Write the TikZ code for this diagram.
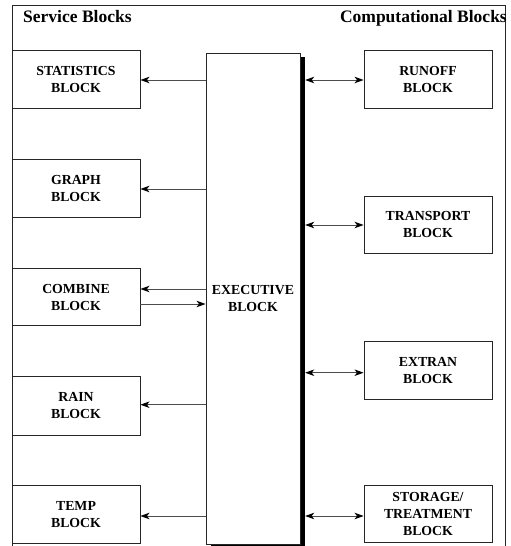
\documentclass[tikz,border=0pt]{standalone}
\usepackage{fontspec}
\setmainfont{Liberation Serif}
\usetikzlibrary{arrows.meta}
\begin{document}
\begin{tikzpicture}[x=1pt,y=-1pt,
  blk/.style={draw=black!85,line width=0.9pt,fill=white,rectangle,inner sep=0pt,
    minimum width=128pt,align=center,font=\bfseries\fontsize{13.8}{17}\selectfont},
  tip/.tip={Stealth[length=9pt,width=6.5pt,inset=2.5pt,color=black]},
  arr/.style={draw=black!70,line width=0.8pt,-tip},
  darr/.style={draw=black!70,line width=0.8pt,tip-tip},
  hdr/.style={inner sep=0pt,font=\bfseries\fontsize{17.5}{20}\selectfont}]
\useasboundingbox (0,0) rectangle (511,546);
% frame
\draw[black!85,line width=0.9pt] (12,546) -- (12,5) -- (505,5) -- (505,546);
\node[hdr,anchor=base west] (h1) at (23,22) {Service Blocks};
\node[hdr,anchor=base east] (h2) at (507,22) {Computational Blocks};
% executive with shadow
\node[fill=black,inner sep=0pt,minimum width=94pt,minimum height=489pt] (shadow) at (258,301.5) {};
\node[blk,minimum width=94pt,minimum height=491pt] (exec) at (253,298.5) {EXECUTIVE\\BLOCK};
% service blocks
\node[blk,minimum height=58pt] (stat) at (76,79) {STATISTICS\\BLOCK};
\node[blk,minimum height=58.4pt] (graph) at (76,188.5) {GRAPH\\BLOCK};
\node[blk,minimum height=57.4pt] (comb) at (76,297) {COMBINE\\BLOCK};
\node[blk,minimum height=58.6pt] (rain) at (76,406) {RAIN\\BLOCK};
\node[blk,minimum height=57.6pt] (temp) at (76,514.5) {TEMP\\BLOCK};
% computational blocks
\node[blk,minimum height=58pt] (runoff) at (428,79) {RUNOFF\\BLOCK};
\node[blk,minimum height=57pt] (trans) at (428,224.5) {TRANSPORT\\BLOCK};
\node[blk,minimum height=57.3pt] (extran) at (428,370.3) {EXTRAN\\BLOCK};
\node[blk,minimum height=57pt] (stor) at (428,514.2) {STORAGE/\\TREATMENT\\BLOCK};
% left arrows
\draw[arr] (exec.west |- 0,80) -- (stat.east |- 0,80);
\draw[arr] (exec.west |- 0,189) -- (graph.east |- 0,189);
\draw[arr] (exec.west |- 0,289) -- (comb.east |- 0,289);
\draw[arr] (comb.east |- 0,304) -- (exec.west |- 0,304);
\draw[arr] (exec.west |- 0,404.7) -- (rain.east |- 0,404.7);
\draw[arr] (exec.west |- 0,516) -- (temp.east |- 0,516);
% right arrows
\draw[darr] (shadow.east |- 0,80) -- (runoff.west |- 0,80);
\draw[darr] (shadow.east |- 0,225) -- (trans.west |- 0,225);
\draw[darr] (shadow.east |- 0,372.7) -- (extran.west |- 0,372.7);
\draw[darr] (shadow.east |- 0,516) -- (stor.west |- 0,516);
\end{tikzpicture}
\end{document}
